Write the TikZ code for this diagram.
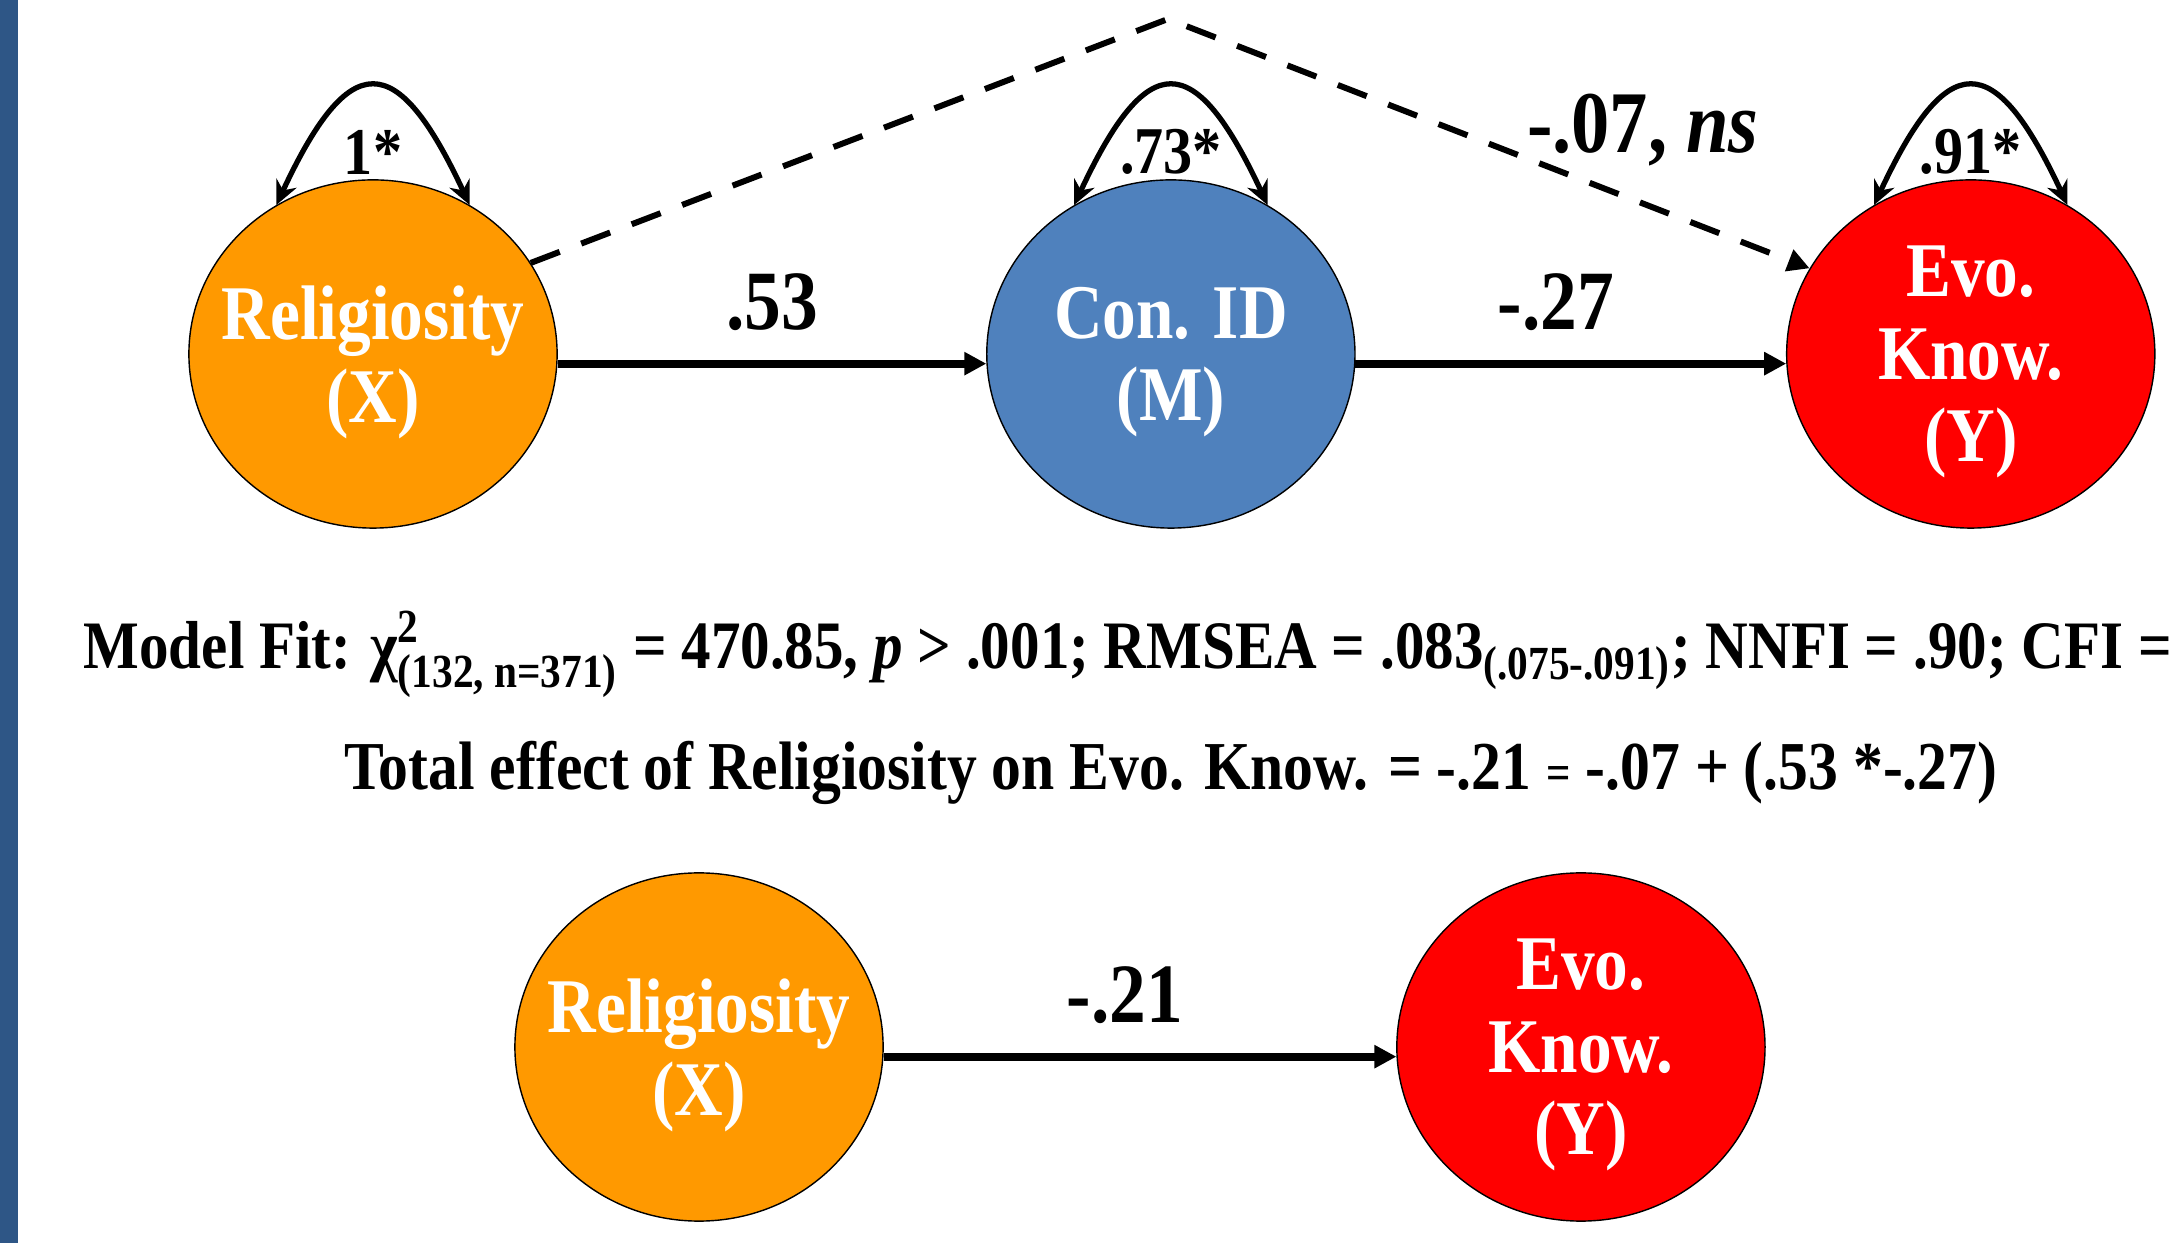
\documentclass[tikz,border=0pt]{standalone}
\usepackage{amsmath}
\usepackage{fontspec}
\setmainfont{Liberation Serif}[FakeStretch=0.87]
\usetikzlibrary{arrows.meta, positioning, shapes.geometric}

\definecolor{religorange}{RGB}{255,153,0}
\definecolor{conblue}{RGB}{79,129,189}
\definecolor{evored}{RGB}{255,0,0}
\definecolor{slideblue}{RGB}{46,86,134}

\begin{document}
\begin{tikzpicture}[
    x=0.01cm, y=0.01cm,
    latent/.style={draw, ellipse, thin, minimum width=3.68cm, minimum height=3.48cm, inner xsep=-2.5mm, inner ysep=0pt, text depth=0pt, align=center, text=white, font=\fontsize{22}{23.5}\selectfont\bfseries},
    coeff/.style={inner sep=0pt, font=\fontsize{24}{28}\selectfont\bfseries},
    varlbl/.style={inner sep=0pt, font=\fontsize{19}{22}\selectfont\bfseries},
    fitline/.style={inner sep=0pt, font=\fontsize{19.3}{23}\selectfont\bfseries},
    arr/.style={-{Triangle[length=2.2mm, width=2.2mm]}, line width=2.2pt},
    dasharr/.style={-{Triangle[length=2.2mm, width=2.2mm]}, line width=1.7pt, dash pattern=on 3.1mm off 2.3mm},
    varloop/.style={{Stealth[length=2.4mm, width=2.2mm]}-{Stealth[length=2.4mm, width=2.2mm]}, line width=1.5pt, out=65, in=115, looseness=2.3}
]
\useasboundingbox (0,0) rectangle (2180,1243);
\clip (0,0) rectangle (2180,1243);
\fill[slideblue] (0,0) rectangle (18,1243);

% mediation model
\node[latent, fill=religorange] (relig) at (373,889) {Religiosity\\(X)};
\node[latent, fill=conblue, right=4.28cm of relig] (conid) {Con. ID\\(M)};
\node[latent, fill=evored, right=4.3cm of conid] (evo) {Evo.\\Know.\\(Y)};
\coordinate (peak) at (1168,1224);

\draw[varloop] (relig.123) to (relig.57);
\draw[varloop] (conid.123) to (conid.57);
\draw[varloop] (evo.123) to (evo.57);
\node[varlbl, above=0.4mm of relig] (relig-var) {1*};
\node[varlbl, above=0.4mm of conid] (conid-var) {.73*};
\node[varlbl, above=0.4mm of evo] (evo-var) {.91*};

\draw[arr] (relig.-3) -- node[coeff, above=2.9mm] {.53} (conid.183);
\draw[arr] (conid.-3) -- node[coeff, above=2.9mm, xshift=-1.5mm] {-.27} (evo.183);
\draw[dasharr] (relig.30) -- (peak) -- node[coeff, pos=0.74, above=3.4mm, font=\fontsize{25}{28}\selectfont\bfseries] {-.07, \textit{ns}} (evo.152);

% fit and total effect
\node[fitline, anchor=base west] (fit) at (83,574) {Model Fit: $\text{χ}^{\text{2}}_{\text{(132, n=371)}}$ = 470.85, \textit{p} > .001; RMSEA = .083$_{\text{(.075-.091)}}$; NNFI = .90; CFI =};
\node[fitline, anchor=base, font=\fontsize{19.5}{23}\selectfont\bfseries] (total) at (1171,453) {Total effect of Religiosity on Evo. Know. = -.21 {\fontsize{14}{16}\selectfont =} -.07 + (.53 *-.27)};

% total effect model
\node[latent, fill=religorange] (relig2) at (699,196) {Religiosity\\(X)};
\node[latent, fill=evored, right=5.12cm of relig2] (evo2) {Evo.\\Know.\\(Y)};
\draw[arr] (relig2.-3) -- node[coeff, above=2.9mm, xshift=-1.5mm] {-.21} (evo2.183);
\end{tikzpicture}
\end{document}
